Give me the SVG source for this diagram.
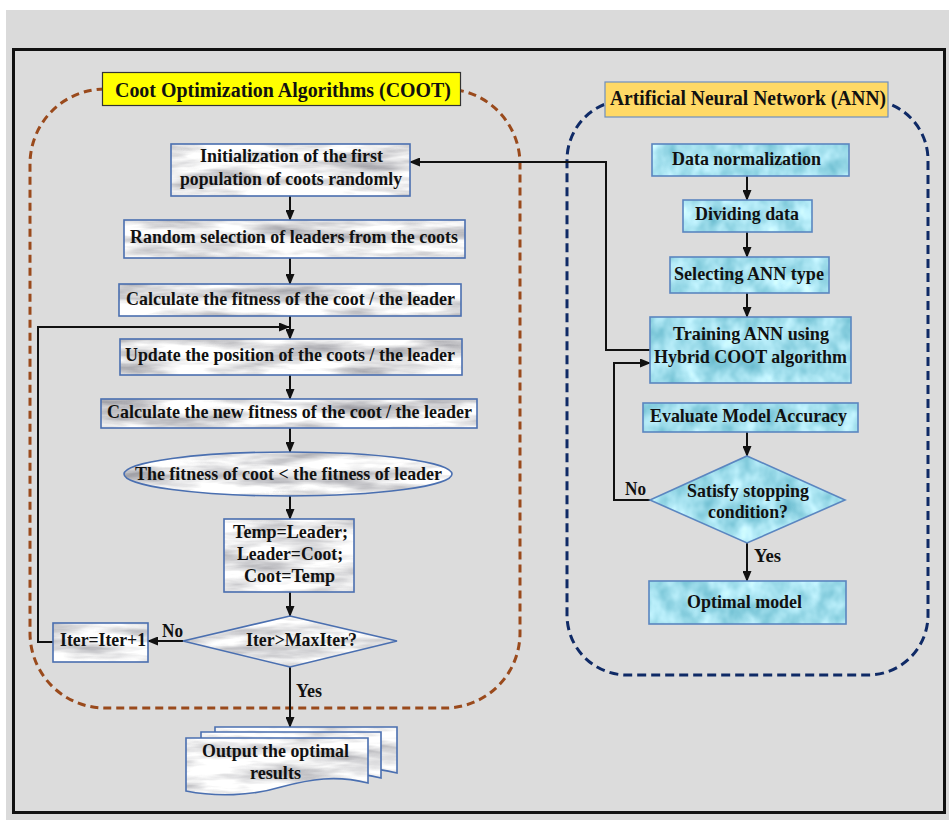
<svg xmlns="http://www.w3.org/2000/svg" width="949" height="820" viewBox="0 0 949 820">
<defs>
<style>
.t{font-family:"Liberation Serif","Times New Roman",serif;font-weight:bold;font-size:19.5px;fill:#111;}
.ttl{font-family:"Liberation Serif","Times New Roman",serif;font-weight:bold;font-size:20.5px;fill:#111;}
.mfill{fill:#fff;filter:url(#marble);}
.wfill{fill:#fff;filter:url(#water);}
.cs{fill:none;stroke:#4a6fb0;stroke-width:1.6;}
.ws{fill:none;stroke:#5b86c0;stroke-width:1.6;}
.ln{fill:none;stroke:#111;stroke-width:2;}
.arr{marker-end:url(#ah);}
</style>
<marker id="ah" markerUnits="userSpaceOnUse" markerWidth="11" markerHeight="9" refX="10" refY="4.5" orient="auto">
<path d="M0,0 L11,4.5 L0,9 Z" fill="#111"/>
</marker>
<filter id="marble" x="0" y="0" width="1" height="1" color-interpolation-filters="sRGB">
<feTurbulence type="fractalNoise" baseFrequency="0.012 0.07" numOctaves="4" seed="7" result="n"/>
<feColorMatrix in="n" type="matrix" values="0.75 0 0 0 0.53  0.75 0 0 0 0.53  0.7 0 0 0 0.56  0 0 0 0 1" result="g"/>
<feComposite in="g" in2="SourceGraphic" operator="in"/>
</filter>
<filter id="water" x="0" y="0" width="1" height="1" color-interpolation-filters="sRGB">
<feTurbulence type="fractalNoise" baseFrequency="0.05 0.04" numOctaves="3" seed="11" result="n"/>
<feColorMatrix in="n" type="matrix" values="0.55 0 0 0 0.36  0.35 0 0 0 0.70  0.3 0 0 0 0.78  0 0 0 0 1" result="g"/>
<feComposite in="g" in2="SourceGraphic" operator="in"/>
</filter>
</defs>

<rect x="0" y="0" width="949" height="820" fill="#ffffff"/>
<rect x="6" y="10" width="943" height="810" fill="#dadada"/>
<rect x="13.5" y="49.5" width="931" height="763" fill="#dcdcdc" stroke="#111" stroke-width="3"/>

<g id="coot-boundary">
<rect x="30" y="89" width="490" height="619" rx="75" ry="75" fill="none" stroke="#9a4a1c" stroke-width="3" stroke-dasharray="8 5"/>
</g>
<g id="ann-boundary">
<rect x="567" y="100" width="361" height="575" rx="60" ry="60" fill="none" stroke="#0f2a66" stroke-width="3" stroke-dasharray="9 5"/>
</g>

<g id="connectors">
<line class="ln arr" x1="290" y1="196" x2="290" y2="220"/>
<line class="ln arr" x1="290" y1="258" x2="290" y2="284"/>
<line class="ln arr" x1="290" y1="316" x2="290" y2="339"/>
<line class="ln arr" x1="290" y1="375" x2="290" y2="399"/>
<line class="ln arr" x1="290" y1="428" x2="290" y2="452"/>
<line class="ln arr" x1="290" y1="496" x2="290" y2="519"/>
<line class="ln arr" x1="290" y1="592" x2="290" y2="616"/>
<line class="ln arr" x1="290" y1="667" x2="290" y2="727"/>
<line class="ln arr" x1="183" y1="641" x2="148" y2="641"/>
<polyline class="ln arr" points="53,642 38,642 38,327 289,327"/>
<polyline class="ln arr" points="650,350 606,350 606,162 410,162"/>
<line class="ln arr" x1="747" y1="176" x2="747" y2="200"/>
<line class="ln arr" x1="747" y1="232" x2="747" y2="257"/>
<line class="ln arr" x1="747" y1="293" x2="747" y2="317"/>
<line class="ln arr" x1="747" y1="432" x2="747" y2="456"/>
<line class="ln arr" x1="747" y1="543" x2="747" y2="581"/>
<polyline class="ln arr" points="650,500 614,500 614,363 650,363"/>
<text class="t" x="162" y="637" textLength="21" lengthAdjust="spacingAndGlyphs">No</text>
<text class="t" x="296" y="697" textLength="26" lengthAdjust="spacingAndGlyphs">Yes</text>
<text class="t" x="625" y="495" textLength="21" lengthAdjust="spacingAndGlyphs">No</text>
<text class="t" x="754" y="562" textLength="27" lengthAdjust="spacingAndGlyphs">Yes</text>
</g>

<g id="coot-title">
<rect x="102.5" y="72.5" width="358" height="33" fill="#ffff00" stroke="#333" stroke-width="1.2"/>
<text class="ttl" x="115" y="97" textLength="336" lengthAdjust="spacingAndGlyphs">Coot Optimization Algorithms (COOT)</text>
</g>
<g id="ann-title">
<rect x="605" y="82" width="283" height="35" fill="#ffd966" stroke="#6f8fbf" stroke-width="1.2"/>
<text class="ttl" x="610" y="105" textLength="276" lengthAdjust="spacingAndGlyphs">Artificial Neural Network (ANN)</text>
</g>

<g id="init">
<rect class="mfill" x="171" y="144" width="239" height="52"/>
<rect class="cs" x="171" y="144" width="239" height="52"/>
<text class="t" x="200" y="162" textLength="183" lengthAdjust="spacingAndGlyphs">Initialization of the first</text>
<text class="t" x="180" y="185" textLength="222" lengthAdjust="spacingAndGlyphs">population of coots randomly</text>
</g>
<g id="random-select">
<rect class="mfill" x="124" y="220" width="341" height="38"/>
<rect class="cs" x="124" y="220" width="341" height="38"/>
<text class="t" x="130" y="243" textLength="328" lengthAdjust="spacingAndGlyphs">Random selection of leaders from the coots</text>
</g>
<g id="calc-fitness">
<rect class="mfill" x="119" y="284" width="342" height="32"/>
<rect class="cs" x="119" y="284" width="342" height="32"/>
<text class="t" x="126" y="305" textLength="329" lengthAdjust="spacingAndGlyphs">Calculate the fitness of the coot / the leader</text>
</g>
<g id="update-position">
<rect class="mfill" x="120" y="339" width="342" height="36"/>
<rect class="cs" x="120" y="339" width="342" height="36"/>
<text class="t" x="125" y="361" textLength="330" lengthAdjust="spacingAndGlyphs">Update the position of the coots / the leader</text>
</g>
<g id="calc-new-fitness">
<rect class="mfill" x="101" y="399" width="376" height="29"/>
<rect class="cs" x="101" y="399" width="376" height="29"/>
<text class="t" x="107" y="418" textLength="365" lengthAdjust="spacingAndGlyphs">Calculate the new fitness of the coot / the leader</text>
</g>
<g id="compare">
<ellipse class="mfill" cx="288" cy="474" rx="164" ry="22"/>
<ellipse class="cs" cx="288" cy="474" rx="164" ry="22"/>
<text class="t" x="135" y="480" textLength="307" lengthAdjust="spacingAndGlyphs">The fitness of coot &lt; the fitness of leader</text>
</g>
<g id="swap">
<rect class="mfill" x="224" y="519" width="130" height="73"/>
<rect class="cs" x="224" y="519" width="130" height="73"/>
<text class="t" x="233" y="538" textLength="115" lengthAdjust="spacingAndGlyphs">Temp=Leader;</text>
<text class="t" x="237" y="560" textLength="106" lengthAdjust="spacingAndGlyphs">Leader=Coot;</text>
<text class="t" x="244" y="582" textLength="91" lengthAdjust="spacingAndGlyphs">Coot=Temp</text>
</g>
<g id="iter-check">
<polygon class="mfill" points="290,616 397,641 290,667 183,641"/>
<polygon class="cs" points="290,616 397,641 290,667 183,641"/>
<text class="t" x="246" y="646" textLength="111" lengthAdjust="spacingAndGlyphs">Iter&gt;MaxIter?</text>
</g>
<g id="iter-inc">
<rect class="mfill" x="53" y="623" width="95" height="39"/>
<rect class="cs" x="53" y="623" width="95" height="39"/>
<text class="t" x="60" y="646" textLength="86" lengthAdjust="spacingAndGlyphs">Iter=Iter+1</text>
</g>
<g id="output">
<path class="mfill" transform="translate(215,727)" d="M0,0 H182 V46 C150,38 125,42 95,50 C65,59 30,60 0,54 Z"/>
<path class="cs" transform="translate(215,727)" d="M0,0 H182 V46 C150,38 125,42 95,50 C65,59 30,60 0,54 Z"/>
<path class="mfill" transform="translate(201,732)" d="M0,0 H180 V46 C148,38 124,42 94,50 C64,59 30,60 0,54 Z"/>
<path class="cs" transform="translate(201,732)" d="M0,0 H180 V46 C148,38 124,42 94,50 C64,59 30,60 0,54 Z"/>
<path class="mfill" transform="translate(186,738)" d="M0,0 H182 V45 C150,37 125,41 95,49 C65,58 30,59 0,53 Z"/>
<path class="cs" transform="translate(186,738)" d="M0,0 H182 V45 C150,37 125,41 95,49 C65,58 30,59 0,53 Z"/>
<text class="t" x="202" y="757" textLength="147" lengthAdjust="spacingAndGlyphs">Output the optimal</text>
<text class="t" x="250" y="779" textLength="51" lengthAdjust="spacingAndGlyphs">results</text>
</g>

<g id="data-norm">
<rect class="wfill" x="652" y="144" width="197" height="32"/>
<rect class="ws" x="652" y="144" width="197" height="32"/>
<text class="t" x="672" y="165" textLength="149" lengthAdjust="spacingAndGlyphs">Data normalization</text>
</g>
<g id="dividing">
<rect class="wfill" x="683" y="200" width="129" height="32"/>
<rect class="ws" x="683" y="200" width="129" height="32"/>
<text class="t" x="695" y="220" textLength="104" lengthAdjust="spacingAndGlyphs">Dividing data</text>
</g>
<g id="selecting">
<rect class="wfill" x="670" y="257" width="159" height="36"/>
<rect class="ws" x="670" y="257" width="159" height="36"/>
<text class="t" x="674" y="280" textLength="150" lengthAdjust="spacingAndGlyphs">Selecting ANN type</text>
</g>
<g id="training">
<rect class="wfill" x="650" y="317" width="201" height="66"/>
<rect class="ws" x="650" y="317" width="201" height="66"/>
<text class="t" x="673" y="340" textLength="156" lengthAdjust="spacingAndGlyphs">Training ANN using</text>
<text class="t" x="654" y="363" textLength="193" lengthAdjust="spacingAndGlyphs">Hybrid COOT algorithm</text>
</g>
<g id="evaluate">
<rect class="wfill" x="643" y="403" width="215" height="29"/>
<rect class="ws" x="643" y="403" width="215" height="29"/>
<text class="t" x="650" y="422" textLength="197" lengthAdjust="spacingAndGlyphs">Evaluate Model Accuracy</text>
</g>
<g id="stopping">
<polygon class="wfill" points="747,456 845,500 747,543 650,500"/>
<polygon class="ws" points="747,456 845,500 747,543 650,500"/>
<text class="t" x="687" y="497" textLength="122" lengthAdjust="spacingAndGlyphs">Satisfy stopping</text>
<text class="t" x="708" y="518" textLength="80" lengthAdjust="spacingAndGlyphs">condition?</text>
</g>
<g id="optimal">
<rect class="wfill" x="649" y="581" width="197" height="43"/>
<rect class="ws" x="649" y="581" width="197" height="43"/>
<text class="t" x="687" y="608" textLength="115" lengthAdjust="spacingAndGlyphs">Optimal model</text>
</g>
</svg>
